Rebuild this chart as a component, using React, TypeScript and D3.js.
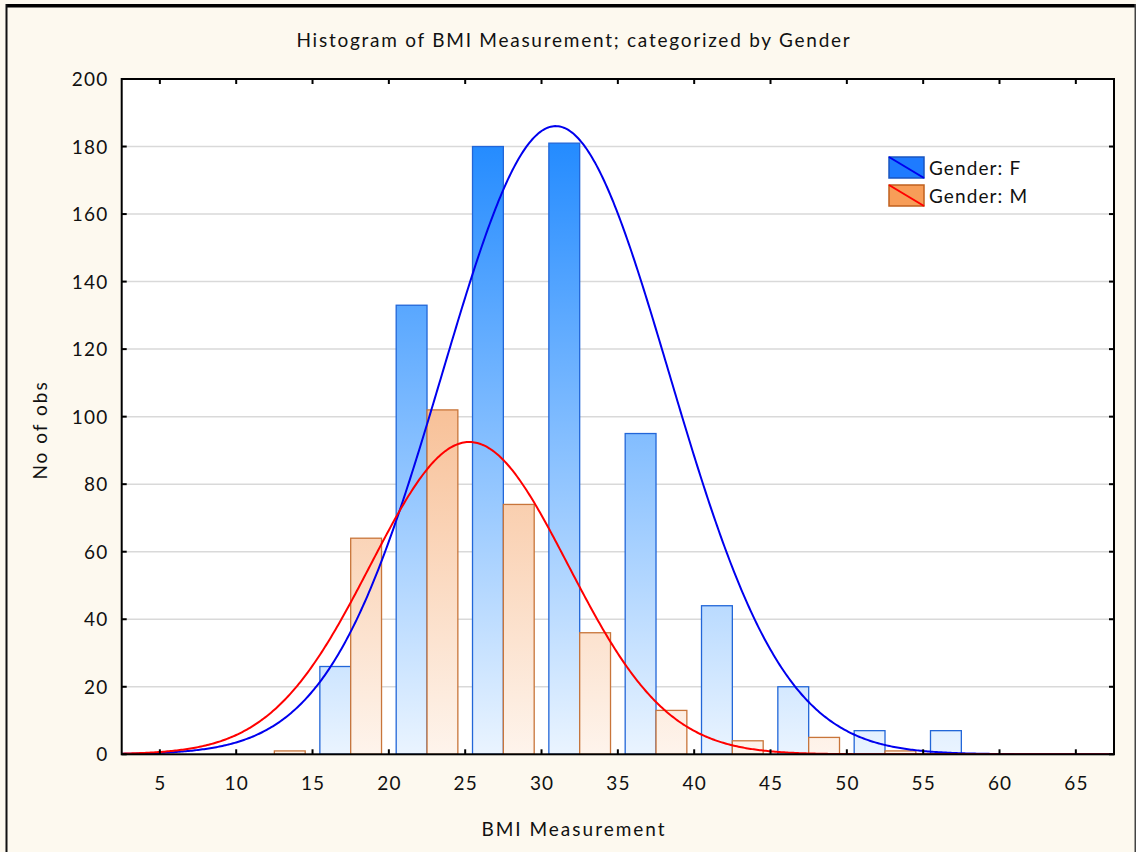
import React from 'react';
import * as d3 from 'd3';

const binStarts = [10, 15, 20, 25, 30, 35, 40, 45, 50, 55];
const femaleCounts = [0, 26, 133, 180, 181, 95, 44, 20, 7, 7];
const maleCounts = [1, 64, 102, 74, 36, 13, 4, 5, 1, 0];
const xTicks = [5, 10, 15, 20, 25, 30, 35, 40, 45, 50, 55, 60, 65];
const yTicks = [0, 20, 40, 60, 80, 100, 120, 140, 160, 180, 200];
const femaleFit = { mean: 30.93, sd: 7.43, n: 693 };
const maleFit = { mean: 25.27, sd: 6.47, n: 300 };
const binWidth = 5;
const legendLabels = ['Gender: F', 'Gender: M'];

const W = 1136, H = 852;
const L = 121.7, R = 1114, T = 79, B = 754.3;
const FONT = 'Lato, "Open Sans", sans-serif';

export default function App() {
  const x = d3.scaleLinear().domain([2.5, 67.5]).range([L, R]);
  const y = d3.scaleLinear().domain([0, 200]).range([B, T]);
  const pad = 0.48;

  const curve = (fit: { mean: number; sd: number; n: number }) => {
    const pts: [number, number][] = [];
    for (let v = 2.5; v <= 67.5; v += 0.1) {
      const pdf = Math.exp(-0.5 * ((v - fit.mean) / fit.sd) ** 2) / (fit.sd * Math.sqrt(2 * Math.PI));
      pts.push([x(v), y(fit.n * binWidth * pdf)]);
    }
    return d3.line()(pts) || '';
  };

  return (
    <svg width={W} height={H} style={{ position: 'absolute', left: 0, top: 0 }} fontFamily={FONT}>
      <defs>
        <linearGradient id="gf" gradientUnits="userSpaceOnUse" x1={0} x2={0} y1={y(190)} y2={y(0)}>
          <stop offset="0" stopColor="#1a86ff" />
          <stop offset="1" stopColor="#eaf4ff" />
        </linearGradient>
        <linearGradient id="gm" gradientUnits="userSpaceOnUse" x1={0} x2={0} y1={y(200)} y2={y(0)}>
          <stop offset="0" stopColor="#f29048" />
          <stop offset="1" stopColor="#fef4ec" />
        </linearGradient>
        <clipPath id="clip"><rect x={L} y={T} width={R - L} height={B - T} /></clipPath>
      </defs>
      <rect x={0} y={0} width={W} height={H} fill="#fdf9ef" />
      <rect x={6} y={4} width={W} height={3.5} fill="#000" />
      <rect x={5.5} y={4} width={2} height={H} fill="#111" />
      <rect x={1134.5} y={4} width={1.5} height={H} fill="#444" />
      <rect x={L} y={T} width={R - L} height={B - T} fill="#fff" />
      {yTicks.filter(t => t > 0 && t < 200).map(t => (
        <line key={'g' + t} x1={L} x2={R} y1={y(t)} y2={y(t)} stroke="#d9d9d9" strokeWidth={1.5} />
      ))}
      {binStarts.map((s, i) => femaleCounts[i] > 0 && (
        <rect key={'f' + s} x={x(s + pad)} y={y(femaleCounts[i])} width={x(s + 2.5) - x(s + pad)}
          height={B - y(femaleCounts[i])} fill="url(#gf)" stroke="#2266d8" strokeWidth={1.3} />
      ))}
      {binStarts.map((s, i) => maleCounts[i] > 0 && (
        <rect key={'m' + s} x={x(s + 2.5)} y={y(maleCounts[i])} width={x(s + binWidth - pad) - x(s + 2.5)}
          height={B - y(maleCounts[i])} fill="url(#gm)" stroke="#c8753a" strokeWidth={1.3} />
      ))}
      <g clipPath="url(#clip)">
        <path d={curve(femaleFit)} fill="none" stroke="#0000ee" strokeWidth={2} />
        <path d={curve(maleFit)} fill="none" stroke="#ff0000" strokeWidth={2} />
      </g>
      <rect x={L} y={T} width={R - L} height={B - T} fill="none" stroke="#000" strokeWidth={2} />
      {xTicks.map(t => (
        <g key={'x' + t}>
          <line x1={x(t)} x2={x(t)} y1={B} y2={B - 5} stroke="#000" strokeWidth={2} />
          <line x1={x(t)} x2={x(t)} y1={T} y2={T + 5} stroke="#000" strokeWidth={2} />
          <text x={x(t) + 0.6} y={790} textAnchor="middle" fontSize={19} letterSpacing={1.2} fill="#111">{t}</text>
        </g>
      ))}
      {yTicks.map(t => (
        <g key={'y' + t}>
          <line x1={L} x2={L + 5} y1={y(t)} y2={y(t)} stroke="#000" strokeWidth={2} />
          <line x1={R} x2={R - 5} y1={y(t)} y2={y(t)} stroke="#000" strokeWidth={2} />
          <text x={108.5} y={y(t) + 7} textAnchor="end" fontSize={19} letterSpacing={1.2} fill="#111">{t}</text>
        </g>
      ))}
      <text x={574} y={47} textAnchor="middle" fontSize={19} letterSpacing={1.75} fill="#111">Histogram of BMI Measurement; categorized by Gender</text>
      <text x={574} y={836} textAnchor="middle" fontSize={19} letterSpacing={2} fill="#111">BMI Measurement</text>
      <text transform="translate(47,430) rotate(-90)" textAnchor="middle" fontSize={19} letterSpacing={2} fill="#111">No of obs</text>
      {legendLabels.map((lab, i) => {
        const ly = 157 + i * 28;
        const fill = i === 0 ? '#1e7bff' : '#f79d58';
        const st = i === 0 ? '#1a55c0' : '#c0601e';
        const lc = i === 0 ? '#0000ee' : '#ff0000';
        return (
          <g key={lab}>
            <rect x={889} y={ly} width={35} height={21} fill={fill} stroke={st} strokeWidth={1.5} />
            <line x1={889} y1={ly} x2={924} y2={ly + 21} stroke={lc} strokeWidth={2} />
            <text x={929} y={ly + 18} fontSize={19} letterSpacing={1.1} fill="#111">{lab}</text>
          </g>
        );
      })}
    </svg>
  );
}
